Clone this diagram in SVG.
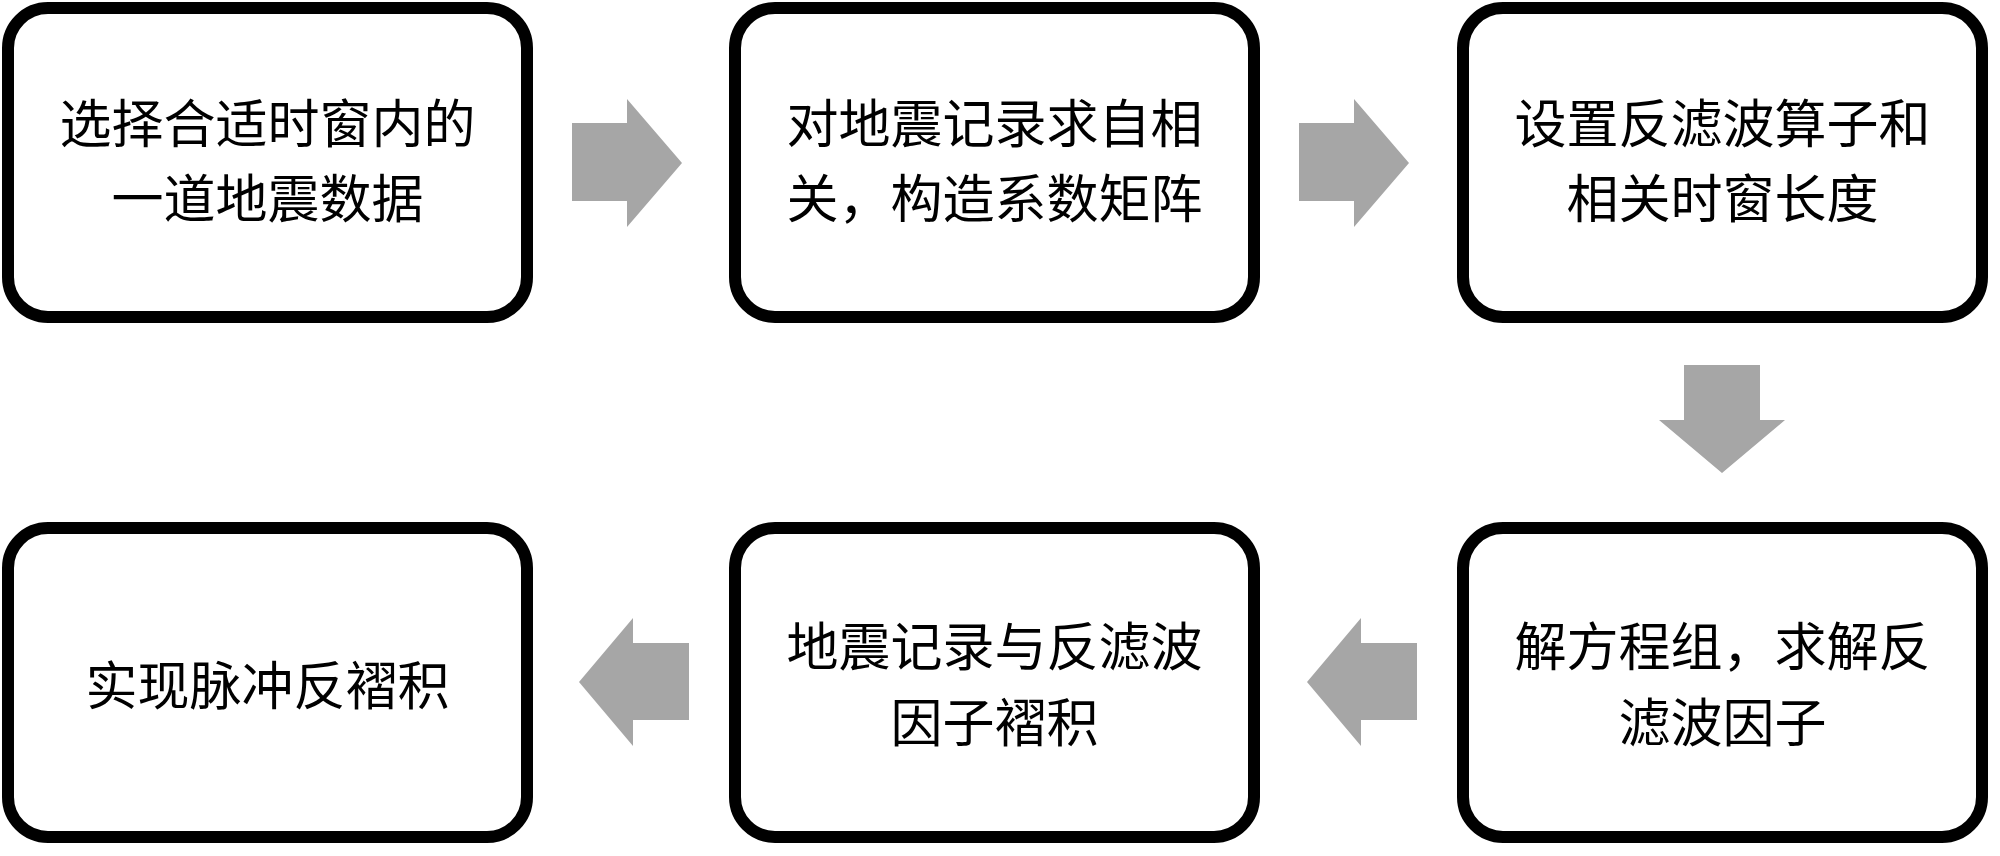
<svg xmlns="http://www.w3.org/2000/svg" width="2000" height="856" viewBox="0 0 2000 856">
<style>
.box{fill:#ffffff;stroke:#000000;stroke-width:12}
.arrow{fill:#a6a6a6;stroke:none}
.t{font-family:"Noto Sans CJK SC","Noto Sans CJK JP",sans-serif;font-size:52px;fill:#000000;text-anchor:middle;dominant-baseline:central}
</style>
<rect x="0" y="0" width="2000" height="856" fill="#ffffff"/>
<g id="connectors">
<polygon class="arrow" points="572,123 627,123 627,99 682,163 627,227 627,201 572,201"/>
<polygon class="arrow" points="1299,123 1354,123 1354,99 1409,163 1354,227 1354,201 1299,201"/>
<polygon class="arrow" points="1684,365 1760,365 1760,420 1785,420 1722,473 1659,420 1684,420"/>
<polygon class="arrow" points="1417,643 1361,643 1361,618 1307,682 1361,746 1361,720 1417,720"/>
<polygon class="arrow" points="689,643 633,643 633,618 579,682 633,746 633,720 689,720"/>
</g>
<g id="node1">
<rect class="box" x="8" y="8" width="519" height="309" rx="40" ry="40"/>
<text class="t" x="267.5" y="120">选择合适时窗内的</text>
<text class="t" x="267.5" y="195">一道地震数据</text>
</g>
<g id="node2">
<rect class="box" x="735" y="8" width="519" height="309" rx="40" ry="40"/>
<text class="t" x="994.5" y="120">对地震记录求自相</text>
<text class="t" x="994.5" y="195">关，构造系数矩阵</text>
</g>
<g id="node3">
<rect class="box" x="1463" y="8" width="519" height="309" rx="40" ry="40"/>
<text class="t" x="1722.5" y="120">设置反滤波算子和</text>
<text class="t" x="1722.5" y="195">相关时窗长度</text>
</g>
<g id="node4">
<rect class="box" x="1463" y="528" width="519" height="309" rx="40" ry="40"/>
<text class="t" x="1722.5" y="643">解方程组，求解反</text>
<text class="t" x="1722.5" y="719">滤波因子</text>
</g>
<g id="node5">
<rect class="box" x="735" y="528" width="519" height="309" rx="40" ry="40"/>
<text class="t" x="994.5" y="643">地震记录与反滤波</text>
<text class="t" x="994.5" y="719">因子褶积</text>
</g>
<g id="node6">
<rect class="box" x="8" y="528" width="519" height="309" rx="40" ry="40"/>
<text class="t" x="267.5" y="682">实现脉冲反褶积</text>
</g>
</svg>
